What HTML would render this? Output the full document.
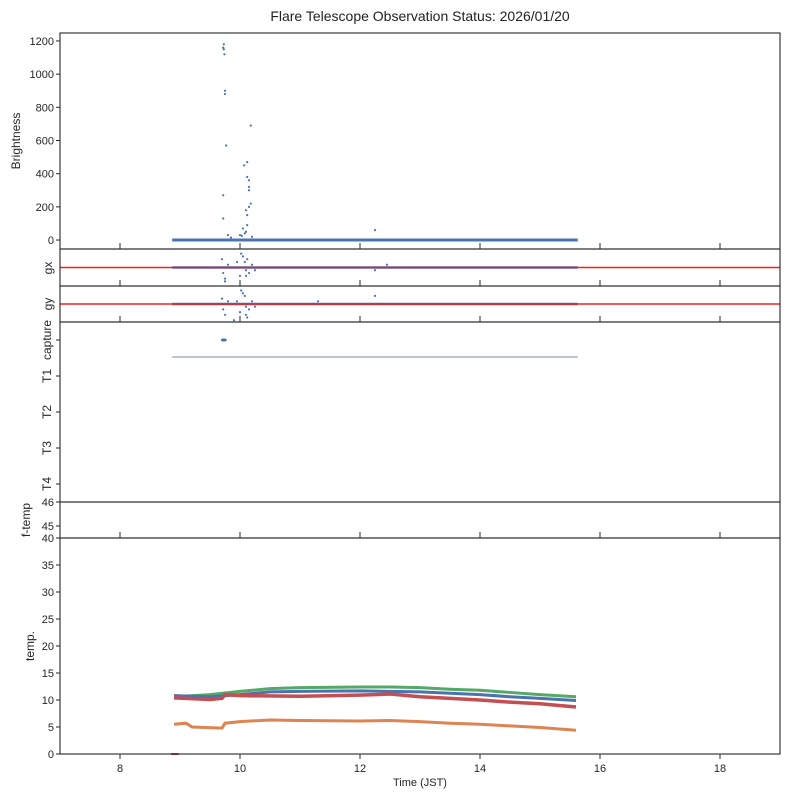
<!DOCTYPE html>
<html><head><meta charset="utf-8"><style>
html,body{margin:0;padding:0;background:#fff;}
svg{display:block;font-family:"Liberation Sans","DejaVu Sans",sans-serif;}
</style></head><body>
<svg id="chart" width="789" height="798" xmlns="http://www.w3.org/2000/svg">
<text x="420" y="21" text-anchor="middle" font-size="14" fill="#222">Flare Telescope Observation Status: 2026/01/20</text>
<g id="marks"></g>
<g id="axes"></g>
</svg>
<script>
const xTicks=[8,10,12,14,16,18];
const tStart=8.87, tEnd=15.63;
const brightT=[9.73,9.73,9.74,9.72,9.75,9.75,9.77,9.72,9.72,10.18,10.07,10.12,10.12,10.15,10.15,10.15,10.18,10.15,10.1,10.12,10.12,10.05,10.1,10.0,12.25,9.8,10.2,9.85,10.08,10.03];
const brightV=[1180,1150,1120,1160,900,880,570,270,130,690,450,470,380,360,320,300,220,200,180,150,90,70,50,30,60,30,20,15,40,25];
const brightTicks=[0,200,400,600,800,1000,1200];
const gxT=[9.7,9.72,9.75,9.8,9.95,10.0,10.05,10.08,10.1,10.12,10.15,10.2,10.25,12.25,12.45,9.75,10.02,10.1];
const gxV=[3,-2,-4,1,2,-3,4,2,-1,3,-2,1,-1,-1,1,-5,5,-3];
const gyT=[9.7,9.72,9.75,9.8,9.95,10.0,10.05,10.08,10.1,10.12,10.15,10.2,10.25,12.25,11.3,9.9,10.02,10.1];
const gyV=[2,-2,-4,1,1,-3,4,3,-1,-5,-2,1,-1,3,1,-6,5,-4];
const tempGreenT=[8.9,9.5,10,10.5,11,12,12.5,13,13.5,14,14.5,15,15.6];
const tempGreenV=[10.6,11.0,11.6,12.1,12.3,12.4,12.4,12.3,12.0,11.8,11.4,11.0,10.6];
const tempBlueT=[8.9,9.5,10,10.5,11,12,13,14,14.5,15,15.6];
const tempBlueV=[10.8,10.6,11.0,11.5,11.6,11.7,11.5,11.0,10.6,10.3,9.9];
const tempRedT=[8.9,9.5,9.7,9.75,10,11,12,12.5,13,14,14.5,15,15.6];
const tempRedV=[10.4,10.1,10.3,11.0,10.8,10.7,10.9,11.1,10.6,10.0,9.6,9.3,8.7];
const tempOrangeT=[8.9,9.1,9.2,9.7,9.75,10,10.5,11,12,12.5,13,13.5,14,14.5,15,15.6];
const tempOrangeV=[5.5,5.7,5.0,4.8,5.7,6.0,6.3,6.2,6.1,6.2,6.0,5.7,5.5,5.2,4.9,4.4];
const tempTicks=[0,5,10,15,20,25,30,35,40];

const NS="http://www.w3.org/2000/svg";
const marks=document.getElementById('marks'), axes=document.getElementById('axes');
function X(t){return 60+(t-7)*60;}
function mk(tag,attrs,parent){const e=document.createElementNS(NS,tag);for(const k in attrs)e.setAttribute(k,attrs[k]);parent.appendChild(e);return e;}
const panels=[
 {name:'brightness',top:33,bot:249,min:-54,max:1248},
 {name:'gx',top:249,bot:286,min:-5,max:5},
 {name:'gy',top:286,bot:322,min:-5,max:5},
 {name:'capture',top:322,bot:502,min:0,max:5},
 {name:'f-temp',top:502,bot:538,min:44.5,max:46},
 {name:'temp',top:538,bot:754,min:0,max:40}];
function Y(p,v){return p.bot-(v-p.min)/(p.max-p.min)*(p.bot-p.top);}
const blue='#4c72b0',green='#55a868',red='#c44e52',orange='#dd8452';
let P=panels[0];
let e=mk('line',{x1:X(tStart),x2:X(tEnd),y1:Y(P,0),y2:Y(P,0),stroke:blue,'stroke-width':3},marks);

brightT.forEach((t,i)=>{const c=mk('circle',{cx:X(t),cy:Y(P,brightV[i]),r:1.1,fill:blue},marks);
});
[[panels[1],gxT,gxV,'gx'],[panels[2],gyT,gyV,'gy']].forEach(([p,ts,vs,n])=>{
 let l=mk('line',{x1:X(tStart),x2:X(tEnd),y1:Y(p,0),y2:Y(p,0),stroke:blue,'stroke-width':2.5},marks);
 
 ts.forEach((t,i)=>{const c=mk('circle',{cx:X(t),cy:Y(p,vs[i]*0.75),r:1.1,fill:blue},marks);
 });
 let r=mk('line',{x1:60,x2:780,y1:Y(p,0),y2:Y(p,0),stroke:'#f02020','stroke-width':1.5},marks);
 
});
P=panels[3];
e=mk('line',{x1:X(tStart),x2:X(tEnd),y1:357,y2:357,stroke:'#55607a','stroke-width':0.7},marks);

e=mk('ellipse',{cx:X(9.73),cy:340,rx:3,ry:1.6,fill:blue},marks);

P=panels[5];
[[tempGreenT,tempGreenV,green,'green'],[tempBlueT,tempBlueV,blue,'blue'],[tempRedT,tempRedV,red,'red'],[tempOrangeT,tempOrangeV,orange,'orange']].forEach(([ts,vs,col,n])=>{
 const pts=ts.map((t,i)=>X(t)+','+Y(P,vs[i])).join(' ');
 const pl=mk('polyline',{points:pts,fill:'none',stroke:col,'stroke-width':n==='red'?3.5:3},marks);
 
});
e=mk('line',{x1:X(8.85),x2:X(8.98),y1:Y(P,0),y2:Y(P,0),stroke:red,'stroke-width':2},marks);

panels.forEach(p=>{
 const r=mk('rect',{x:60,y:p.top,width:720,height:p.bot-p.top,fill:'none',stroke:'#262626','stroke-width':1.1},axes);
 
 if(p.name==='capture')return;
 const out=p.name==='temp';
 xTicks.forEach(t=>{const tk=mk('line',{x1:X(t),x2:X(t),y1:p.bot,y2:out?p.bot+5:p.bot-6,stroke:'#262626','stroke-width':1},axes);
  });
});
function ylab(txt,y,name){const t=mk('text',{x:54,y:y+4,'text-anchor':'end','font-size':11,fill:'#262626'},axes);t.textContent=txt;
 
 const tk=mk('line',{x1:56,x2:60,y1:y,y2:y,stroke:'#262626'},axes);}
P=panels[0];brightTicks.forEach(v=>ylab(String(v),Y(P,v),'brightness-y-tick-label'));
P=panels[5];tempTicks.forEach(v=>ylab(String(v),Y(P,v),'temp-y-tick-label'));
ylab('46',502,'ftemp-y-tick-label');ylab('45',526,'ftemp-y-tick-label');
function vlab(txt,x,y,name){const t=mk('text',{x:x,y:y,'text-anchor':'middle','font-size':12,fill:'#262626',transform:`rotate(-90 ${x} ${y})`},axes);t.textContent=txt;
 }
vlab('Brightness',20,141,'brightness-y-axis-title');
vlab('gx',52,268,'gx-y-axis-title');
vlab('gy',52,304,'gy-y-axis-title');
[['capture',340],['T1',376],['T2',412],['T3',448],['T4',484]].forEach(([s,y])=>{vlab(s,51,y,'capture-y-label-'+s.toLowerCase());
 const tk=mk('line',{x1:56,x2:60,y1:y,y2:y,stroke:'#262626'},axes);});
vlab('f-temp',30,520,'ftemp-y-axis-title');
vlab('temp.',34,646,'temp-y-axis-title');
xTicks.forEach(t=>{const tx=mk('text',{x:X(t),y:772,'text-anchor':'middle','font-size':11,fill:'#262626'},axes);tx.textContent=String(t);
 });
const xt=mk('text',{x:420,y:786,'text-anchor':'middle','font-size':11,fill:'#262626'},axes);xt.textContent='Time (JST)';

</script>
</body></html>
